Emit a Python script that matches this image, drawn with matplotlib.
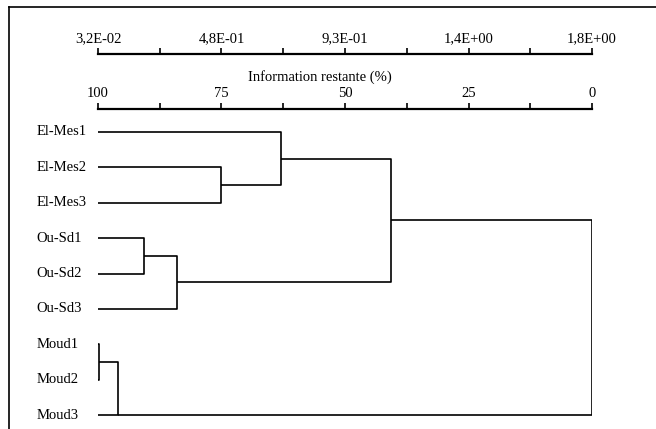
import matplotlib.pyplot as plt
from matplotlib.lines import Line2D

plt.rcParams['font.family'] = ['Liberation Serif', 'DejaVu Serif']

# feuilles du dendrogramme (de haut en bas)
leaves = ['El-Mes1', 'El-Mes2', 'El-Mes3', 'Ou-Sd1', 'Ou-Sd2', 'Ou-Sd3', 'Moud1', 'Moud2', 'Moud3']
leaf_start = [100, 100, 100, 100, 100, 100, 100, 100, 100.8]   # % où commence le trait de chaque feuille

# fusions : (noeud gauche, noeud droit, niveau en % d'information restante)
# les noeuds 0..8 sont les feuilles, 9.. sont les fusions dans l'ordre
merges = [
    (6, 7, 99.8),    # 9  Moud1 + Moud2
    (9, 8, 96.0),    # 10 + Moud3
    (3, 4, 90.7),    # 11 Ou-Sd1 + Ou-Sd2
    (11, 5, 84.0),   # 12 + Ou-Sd3
    (1, 2, 75.0),    # 13 El-Mes2 + El-Mes3
    (0, 13, 63.0),   # 14 El-Mes1 + ...
    (14, 12, 40.7),  # 15 El-Mes + Ou-Sd
    (15, 10, 0.0),   # 16 tout
]
# le groupe Moud continue sur la ligne de Moud3 (comme dans la figure d'origine)
node_on_leaf = {10: 8}

pct_ticks = [100, 75, 50, 25, 0]
pct_labels = ['100', '75', '50', '25', '0']
dist_labels = ['3,2E-02', '4,8E-01', '9,3E-01', '1,4E+00', '1,8E+00']
minor_ticks = [87.5, 62.5, 37.5, 12.5]

W, H = 656, 429
fig = plt.figure(figsize=(W / 100, H / 100), dpi=100)

x0, x1 = 98 / W, 592 / W
ax = fig.add_axes([x0, 1 - 425.8 / H, x1 - x0, (425.8 - 114.3) / H])
ax.set_xlim(100, 0)
ax.set_ylim(8.3, -0.5)
ax.axis('off')

lw = 1.2
pos = {}
for i, name in enumerate(leaves):
    pos[i] = (leaf_start[i], i)
for k, (a, b, h) in enumerate(merges):
    xa, ya = pos[a]
    xb, yb = pos[b]
    ax.plot([xa, h, h, xb], [ya, ya, yb, yb], color='black', lw=lw, solid_capstyle='butt')
    node = len(leaves) + k
    if node in node_on_leaf:
        ym = node_on_leaf[node]
    else:
        ym = (ya + yb) / 2
    pos[node] = (h, ym)

for i, name in enumerate(leaves):
    ax.text(-0.125, i, name, transform=ax.get_yaxis_transform(), ha='left', va='center',
            fontsize=10.5)


def scale_bar(y_px, labels):
    sa = fig.add_axes([x0, 1 - y_px / H, x1 - x0, 0.001])
    sa.set_xlim(100, 0)
    sa.set_yticks([])
    for s in ['left', 'right', 'bottom']:
        sa.spines[s].set_visible(False)
    sa.spines['top'].set_linewidth(1.6)
    sa.patch.set_visible(False)
    sa.xaxis.set_ticks_position('top')
    sa.set_xticks(pct_ticks)
    sa.set_xticklabels(labels, fontsize=10.5)
    sa.set_xticks(minor_ticks, minor=True)
    sa.tick_params(axis='x', which='both', direction='out', length=4, width=1.2, pad=2)
    return sa


scale_bar(54, dist_labels)
scale_bar(109, pct_labels)
fig.text(320 / W, 1 - 77 / H, 'Information restante (%)', ha='center', va='center', fontsize=10.5)

# cadre
fig.add_artist(Line2D([9 / W, 9 / W], [0, 1 - 7 / H], color='black', lw=1.2))
fig.add_artist(Line2D([9 / W, 1], [1 - 7 / H, 1 - 7 / H], color='black', lw=1.2))

fig.savefig('out.png', dpi=100)
